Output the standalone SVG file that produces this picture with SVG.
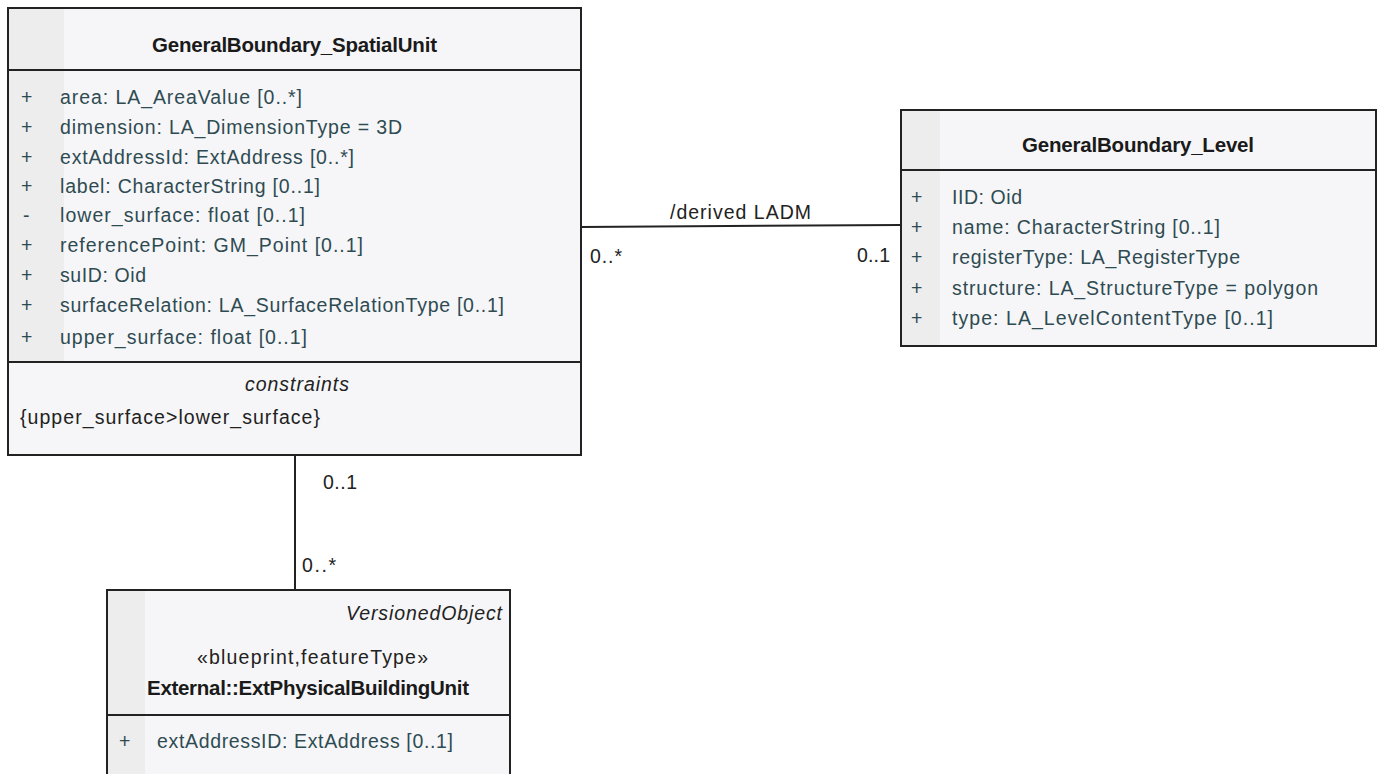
<svg xmlns="http://www.w3.org/2000/svg" width="1383" height="774" viewBox="0 0 1383 774">
<style>
.box{fill:#f6f6f8;stroke:#222;stroke-width:2}
.strip{fill:#ededee}
.sep{stroke:#222;stroke-width:2}
.t{font-family:"Liberation Sans",Arial,sans-serif;font-size:19.5px}
.title{font-family:"Liberation Sans",Arial,sans-serif;font-size:20.5px;font-weight:bold;fill:#1a1a1a}
.attr{fill:#2f4b52}
.lbl{fill:#222}
.it{font-style:italic;fill:#222}
.conn{stroke:#222;stroke-width:2;fill:none}
</style>
<rect width="1383" height="774" fill="#ffffff"/>
<g id="connectors">
<path class="conn" d="M581,227 L901,225"/>
<path class="conn" d="M295,455 L295,590"/>
<text class="t lbl" x="670" y="219" textLength="141">/derived LADM</text>
<text class="t lbl" x="590" y="263" textLength="32">0..*</text>
<text class="t lbl" x="857" y="262" textLength="33">0..1</text>
<text class="t lbl" x="323" y="489" textLength="34">0..1</text>
<text class="t lbl" x="302" y="572" textLength="34">0..*</text>
</g>
<g id="GeneralBoundary_SpatialUnit">
<rect class="box" x="8" y="8" width="573" height="447"/>
<rect class="strip" x="9" y="9" width="55" height="352"/>
<line class="sep" x1="8" y1="70" x2="581" y2="70"/>
<line class="sep" x1="8" y1="362" x2="581" y2="362"/>
<text class="title" x="152" y="52" textLength="285">GeneralBoundary_SpatialUnit</text>
<g class="t attr">
<text x="21" y="104">+</text><text x="60" y="104" textLength="242">area: LA_AreaValue [0..*]</text>
<text x="21" y="134">+</text><text x="60" y="134" textLength="342">dimension: LA_DimensionType = 3D</text>
<text x="21" y="164">+</text><text x="60" y="164" textLength="294">extAddressId: ExtAddress [0..*]</text>
<text x="21" y="193">+</text><text x="60" y="193" textLength="260">label: CharacterString [0..1]</text>
<text x="23" y="222">-</text><text x="60" y="222" textLength="245">lower_surface: float [0..1]</text>
<text x="21" y="252">+</text><text x="60" y="252" textLength="303">referencePoint: GM_Point [0..1]</text>
<text x="21" y="282">+</text><text x="60" y="282" textLength="86">suID: Oid</text>
<text x="21" y="312">+</text><text x="60" y="312" textLength="444">surfaceRelation: LA_SurfaceRelationType [0..1]</text>
<text x="21" y="344">+</text><text x="60" y="344" textLength="247">upper_surface: float [0..1]</text>
</g>
<text class="t it" x="245" y="391" textLength="104">constraints</text>
<text class="t lbl" x="20" y="424" textLength="300">{upper_surface&gt;lower_surface}</text>
</g>
<g id="GeneralBoundary_Level">
<rect class="box" x="901" y="110" width="475" height="236"/>
<rect class="strip" x="902" y="111" width="38" height="234"/>
<line class="sep" x1="901" y1="170" x2="1376" y2="170"/>
<text class="title" x="1022" y="152" textLength="232">GeneralBoundary_Level</text>
<g class="t attr">
<text x="911" y="204">+</text><text x="952" y="204" textLength="70">IID: Oid</text>
<text x="911" y="234">+</text><text x="952" y="234" textLength="268">name: CharacterString [0..1]</text>
<text x="911" y="264">+</text><text x="952" y="264" textLength="288">registerType: LA_RegisterType</text>
<text x="911" y="295">+</text><text x="952" y="295" textLength="366">structure: LA_StructureType = polygon</text>
<text x="911" y="325">+</text><text x="952" y="325" textLength="321">type: LA_LevelContentType [0..1]</text>
</g>
</g>
<g id="ExtPhysicalBuildingUnit">
<rect class="box" x="107" y="590" width="403" height="200"/>
<rect class="strip" x="108" y="591" width="37" height="183"/>
<line class="sep" x1="107" y1="715" x2="510" y2="715"/>
<text class="t it" x="346" y="620" textLength="156">VersionedObject</text>
<text class="t lbl" x="197" y="664" textLength="231">«blueprint,featureType»</text>
<text class="title" x="147" y="695" textLength="322">External::ExtPhysicalBuildingUnit</text>
<g class="t attr">
<text x="119" y="748">+</text><text x="157" y="748" textLength="296">extAddressID: ExtAddress [0..1]</text>
</g>
</g>
</svg>
